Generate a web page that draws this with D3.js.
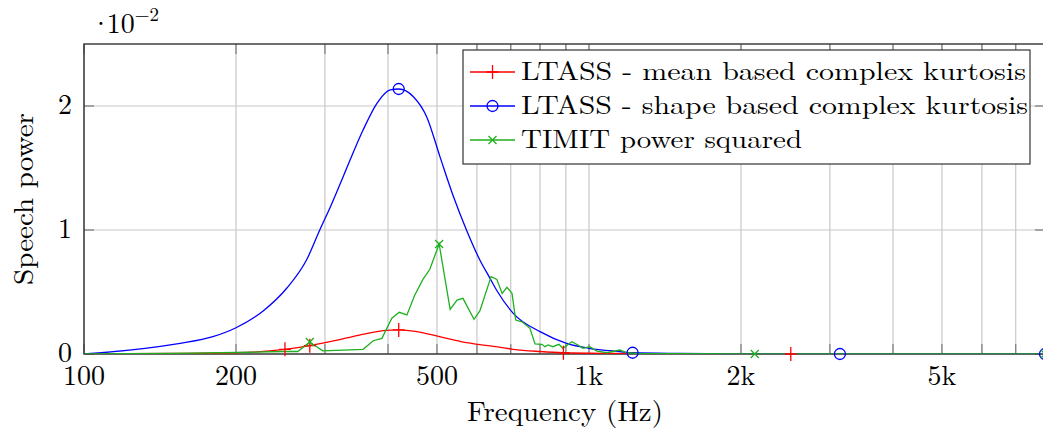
<!DOCTYPE html>
<html>
<head>
<meta charset="utf-8">
<script src="https://cdn.jsdelivr.net/npm/d3@7"></script>
<style>
  body { margin: 0; background: #fff; }
</style>
</head>
<body>
<script>
// values are in units of 1e-2 (the axis shows ·10^-2)
const freqMean = [100, 150, 200, 250, 280, 312, 351, 392, 420, 456, 506, 572, 608, 667, 708, 800, 890, 1100, 1500, 2510, 8000];
const meanKurtosis = [0, 0.004, 0.01, 0.038, 0.067, 0.105, 0.153, 0.188, 0.194, 0.18, 0.14, 0.091, 0.076, 0.054, 0.038, 0.02, 0.01, 0.004, 0.001, 0, 0];
const markMean = [250, 280, 420, 890, 2510];

const freqShape = [100, 123, 155, 180, 200, 226, 252, 276, 293, 307, 326, 357, 380, 404, 420, 449, 477, 507, 539, 572, 608, 637, 656, 708, 800, 903, 1000, 1152, 1220, 1500, 2000, 3140, 5000, 8000];
const shapeKurtosis = [0, 0.032, 0.086, 0.14, 0.212, 0.345, 0.53, 0.76, 1.0, 1.18, 1.43, 1.806, 2.02, 2.13, 2.137, 2.075, 1.914, 1.59, 1.27, 1.0, 0.758, 0.61, 0.516, 0.328, 0.18, 0.086, 0.046, 0.019, 0.01, 0.004, 0.001, 0, 0, 0];
const markShape = [420, 1220, 3140, 8000];

const freqTimit = [100, 150, 200, 248, 265, 280, 297, 357, 374, 389, 407, 421, 436, 452, 469, 484, 505, 531, 548, 563, 592, 608, 640, 657, 673, 688, 704, 716, 737, 764, 782, 807, 818, 830, 848, 872, 888, 925, 951, 973, 1004, 1037, 1085, 1152, 1189, 1262, 1500, 2130, 5000, 8000];
const timitPower = [0, 0.005, 0.012, 0.02, 0.02, 0.097, 0.025, 0.038, 0.107, 0.126, 0.288, 0.336, 0.315, 0.476, 0.602, 0.683, 0.887, 0.36, 0.435, 0.449, 0.28, 0.347, 0.624, 0.602, 0.489, 0.538, 0.489, 0.274, 0.26, 0.207, 0.081, 0.078, 0.059, 0.073, 0.059, 0.078, 0.046, 0.099, 0.073, 0.046, 0.059, 0.024, 0.01, 0.032, 0.01, 0.003, 0.002, 0, 0, 0];
const markTimit = [280, 505, 2130, 8000];

const xTicks = [100, 200, 500, 1000, 2000, 5000];
const xTickLabels = ['100', '200', '500', '1k', '2k', '5k'];
const xGrid = [100, 200, 300, 400, 500, 600, 700, 800, 900, 1000, 2000, 3000, 4000, 5000, 6000, 7000, 8000];
const yTicks = [0, 1, 2];

const seriesNames = ['LTASS - mean based complex kurtosis', 'LTASS - shape based complex kurtosis', 'TIMIT power squared'];

const width = 1043,
  height = 437;
const pLeft = 84, pRight = 1045, pTop = 44, pBottom = 354;
const fs = 28;

const x = d3.scaleLog().domain([100, 8000]).range([pLeft, pRight]);
const y = d3.scaleLinear().domain([0, 2.5]).range([pBottom, pTop]);

const svg = d3.select('body').append('svg')
  .attr('width', width)
  .attr('height', height);

// find a serif face that is really installed (compare against two fallbacks)
function hasFont(name) {
  const t = svg.append('text').attr('font-size', 40).text('Frequency kurtosis 1234');
  t.attr('font-family', `"${name}", monospace`);
  const a = t.node().getComputedTextLength();
  t.attr('font-family', `"${name}", sans-serif`);
  const b = t.node().getComputedTextLength();
  t.remove();
  return Math.abs(a - b) < 0.5;
}
const serifFont = ['Latin Modern Roman', 'CMU Serif', 'Liberation Serif', 'DejaVu Serif', 'Tinos', 'Times New Roman', 'Noto Serif', 'FreeSerif']
  .find(hasFont) || 'serif';
svg.attr('font-family', `"${serifFont}", serif`);

// fit a text to the width it has in the reference
function fitTo(sel, w) {
  const n = sel.node().getComputedTextLength();
  if (Math.abs(n - w) > 3) sel.attr('textLength', w).attr('lengthAdjust', 'spacingAndGlyphs');
  return sel;
}

svg.append('defs').append('clipPath').attr('id', 'clip')
  .append('rect').attr('x', pLeft).attr('y', pTop).attr('width', pRight - pLeft).attr('height', pBottom - pTop);

// grid
const grid = svg.append('g');
grid.selectAll('line.vg').data(xGrid).join('line')
  .attr('x1', d => x(d)).attr('x2', d => x(d))
  .attr('y1', pTop).attr('y2', pBottom)
  .attr('stroke', '#c8c8c8').attr('stroke-width', 1.2);
grid.selectAll('line.hg').data(yTicks).join('line')
  .attr('x1', pLeft).attr('x2', pRight)
  .attr('y1', d => y(d)).attr('y2', d => y(d))
  .attr('stroke', '#c8c8c8').attr('stroke-width', 1.2);

// tick marks (inside)
const ticks = svg.append('g').attr('stroke', '#7a7a7a').attr('stroke-width', 1.2);
xGrid.forEach(d => {
  ticks.append('line').attr('x1', x(d)).attr('x2', x(d)).attr('y1', pBottom).attr('y2', pBottom - 10);
  ticks.append('line').attr('x1', x(d)).attr('x2', x(d)).attr('y1', pTop).attr('y2', pTop + 10);
});
yTicks.forEach(d => {
  ticks.append('line').attr('x1', pLeft).attr('x2', pLeft + 10).attr('y1', y(d)).attr('y2', y(d));
  ticks.append('line').attr('x1', pRight).attr('x2', pRight - 10).attr('y1', y(d)).attr('y2', y(d));
});

// axis box
svg.append('rect')
  .attr('x', pLeft).attr('y', pTop).attr('width', pRight - pLeft).attr('height', pBottom - pTop)
  .attr('fill', 'none').attr('stroke', '#333').attr('stroke-width', 1.4);

// tick labels
svg.append('g').selectAll('text').data(xTicks).join('text')
  .attr('x', d => x(d)).attr('y', 385)
  .attr('text-anchor', 'middle').attr('font-size', fs)
  .text((d, i) => xTickLabels[i]);
svg.append('g').selectAll('text').data(yTicks).join('text')
  .attr('x', 72).attr('y', d => y(d) + 8)
  .attr('text-anchor', 'end').attr('font-size', fs)
  .text(d => d);

// exponent
const ex = svg.append('text').attr('x', 90).attr('y', 33).attr('font-size', fs);
ex.append('tspan').text('·');
ex.append('tspan').attr('dx', -5).text('10');
ex.append('tspan').attr('font-size', 19).attr('dy', -12).text('−2');

// axis labels
fitTo(svg.append('text').attr('x', 467).attr('y', 421)
  .attr('font-size', fs).text('Frequency (Hz)'), 196);
fitTo(svg.append('text').attr('transform', 'translate(33,' + ((pTop + pBottom) / 2) + ') rotate(-90)')
  .attr('x', -86).attr('font-size', fs).text('Speech power'), 172);

// series
const series = [
  { f: freqMean, v: meanKurtosis, marks: markMean, color: '#ff0000', mark: 'plus', curve: d3.curveMonotoneX, len: 505 },
  { f: freqShape, v: shapeKurtosis, marks: markShape, color: '#0000ff', mark: 'circle', curve: d3.curveMonotoneX, len: 507 },
  { f: freqTimit, v: timitPower, marks: markTimit, color: '#1fb01f', mark: 'cross', curve: d3.curveLinear, len: 281 }
];

function drawMark(g, kind, cx, cy, color) {
  if (kind === 'plus') {
    g.append('path').attr('d', `M${cx - 6},${cy}H${cx + 6}M${cx},${cy - 7}V${cy + 7}`)
      .attr('stroke', color).attr('stroke-width', 1.3).attr('fill', 'none');
  } else if (kind === 'circle') {
    g.append('circle').attr('cx', cx).attr('cy', cy).attr('r', 5.5)
      .attr('stroke', color).attr('stroke-width', 1.3).attr('fill', 'none');
  } else {
    g.append('path').attr('d', `M${cx - 4},${cy - 4}L${cx + 4},${cy + 4}M${cx - 4},${cy + 4}L${cx + 4},${cy - 4}`)
      .attr('stroke', color).attr('stroke-width', 1.3).attr('fill', 'none');
  }
}

const plot = svg.append('g');
const plotLines = plot.append('g').attr('clip-path', 'url(#clip)');
series.forEach(s => {
  const pts = s.f.map((f, i) => [f, s.v[i]]);
  const line = d3.line().x(d => x(d[0])).y(d => y(d[1])).curve(s.curve);
  plotLines.append('path').datum(pts)
    .attr('d', line)
    .attr('fill', 'none').attr('stroke', s.color).attr('stroke-width', 1.3);
  pts.filter(p => s.marks.includes(p[0])).forEach(p => drawMark(plot, s.mark, x(p[0]), y(p[1]), s.color));
});

// legend
const lg = svg.append('g');
lg.append('rect').attr('x', 463).attr('y', 50).attr('width', 567).attr('height', 114)
  .attr('fill', '#fff').attr('stroke', '#333').attr('stroke-width', 1.2);
series.forEach((s, i) => {
  const cy = 72 + i * 34;
  lg.append('line').attr('x1', 470).attr('x2', 515).attr('y1', cy).attr('y2', cy)
    .attr('stroke', s.color).attr('stroke-width', 1.3);
  drawMark(lg, s.mark, 492.5, cy, s.color);
  fitTo(lg.append('text').attr('x', 521).attr('y', cy + 8).attr('font-size', 26)
    .text(seriesNames[i]), s.len);
});
</script>
</body>
</html>
